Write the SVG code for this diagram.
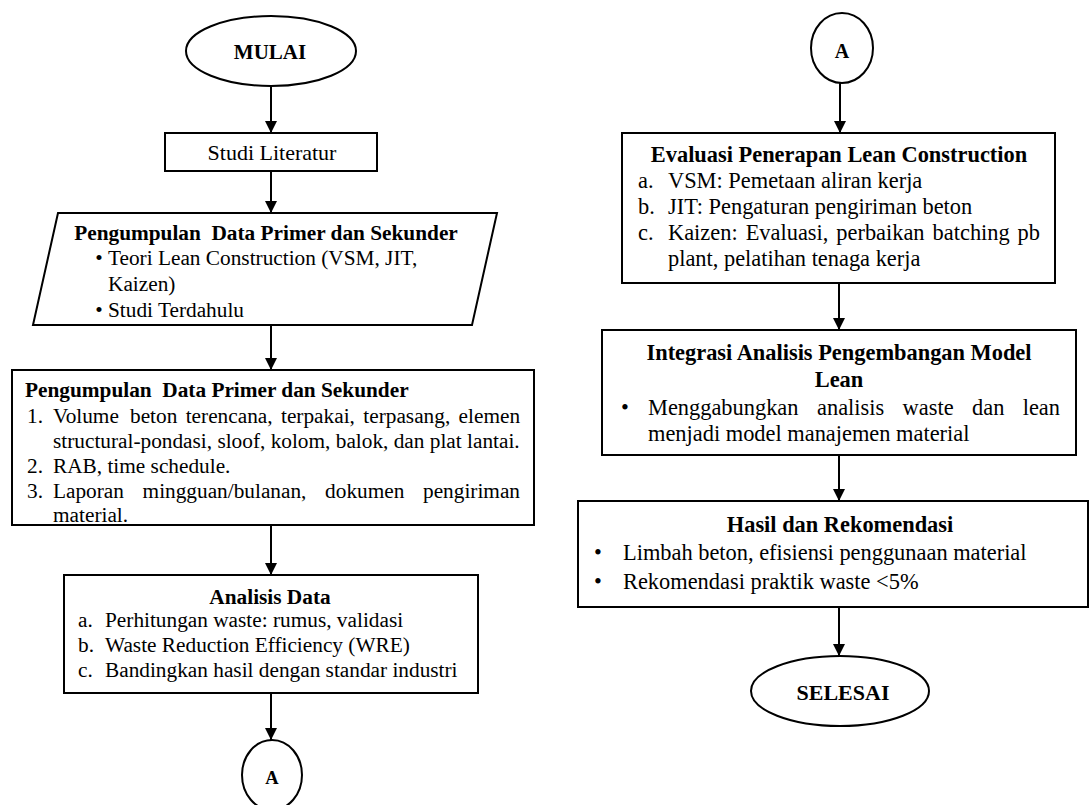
<svg xmlns="http://www.w3.org/2000/svg" width="1091" height="805" viewBox="0 0 1091 805">
<defs>
<style>
.box{fill:#fff;stroke:#000;stroke-width:2}
.t{font-family:"Liberation Serif","Times New Roman",serif;font-size:21.3px;fill:#000}
.r{font-size:22.4px}
.b{font-weight:bold}
.m{text-anchor:middle}
.conn line{stroke:#000;stroke-width:2;marker-end:url(#ah)}
</style>
<marker id="ah" markerUnits="userSpaceOnUse" markerWidth="12" markerHeight="12" refX="12" refY="6" orient="auto">
<path d="M0,0 L12,6 L0,12 z" fill="#000"/>
</marker>
</defs>
<rect width="1091" height="805" fill="#fff"/>

<g id="connectors" class="conn">
<line x1="271" y1="86" x2="271" y2="133"/>
<line x1="271" y1="171" x2="271" y2="213"/>
<line x1="271" y1="325" x2="271" y2="370"/>
<line x1="271" y1="525" x2="271" y2="575"/>
<line x1="271" y1="693" x2="271" y2="740"/>
<line x1="840" y1="83" x2="840" y2="133"/>
<line x1="839" y1="283" x2="839" y2="330"/>
<line x1="839" y1="455" x2="839" y2="501"/>
<line x1="839" y1="607" x2="839" y2="656"/>
</g>

<g id="mulai">
<ellipse class="box" cx="271" cy="51" rx="85" ry="35"/>
<text class="t b m" x="270" y="59" style="font-size:21px">MULAI</text>
</g>

<g id="studi-literatur">
<rect class="box" x="165" y="133" width="212" height="38"/>
<text class="t m" x="272" y="160" style="font-size:22px">Studi Literatur</text>
</g>

<g id="pengumpulan-1">
<polygon class="box" points="58,213 497,213 472,325 33,325"/>
<text class="t b m" x="266" y="240" xml:space="preserve">Pengumpulan  Data Primer dan Sekunder</text>
<text class="t m" x="99" y="265">•</text>
<text class="t" x="108" y="265">Teori Lean Construction (VSM, JIT,</text>
<text class="t" x="108" y="291">Kaizen)</text>
<text class="t m" x="99" y="317">•</text>
<text class="t" x="108" y="317">Studi Terdahulu</text>
</g>

<g id="pengumpulan-2">
<rect class="box" x="12" y="370" width="522" height="155"/>
<text class="t b" x="25" y="397" xml:space="preserve">Pengumpulan  Data Primer dan Sekunder</text>
<text class="t" x="27" y="423">1.</text>
<text class="t" y="423"><tspan x="53">Volume</tspan><tspan x="130">beton</tspan><tspan x="185.7">terencana,</tspan><tspan x="281">terpakai,</tspan><tspan x="363.3">terpasang,</tspan><tspan x="458.6">elemen</tspan></text>
<text class="t" x="53" y="448">structural-pondasi, sloof, kolom, balok, dan plat lantai.</text>
<text class="t" x="27" y="473">2.</text>
<text class="t" x="53" y="473">RAB, time schedule.</text>
<text class="t" x="27" y="498">3.</text>
<text class="t" y="498"><tspan x="53">Laporan</tspan><tspan x="142.6">mingguan/bulanan,</tspan><tspan x="325.1">dokumen</tspan><tspan x="423">pengiriman</tspan></text>
<text class="t" x="53" y="522">material.</text>
</g>

<g id="analisis-data">
<rect class="box" x="64" y="575" width="414" height="118"/>
<text class="t b m" x="270" y="604">Analisis Data</text>
<text class="t" x="78" y="627">a.</text>
<text class="t" x="105" y="627">Perhitungan waste: rumus, validasi</text>
<text class="t" x="78" y="652">b.</text>
<text class="t" x="105" y="652">Waste Reduction Efficiency (WRE)</text>
<text class="t" x="78" y="677">c.</text>
<text class="t" x="105" y="677">Bandingkan hasil dengan standar industri</text>
</g>

<g id="konektor-a-1">
<ellipse class="box" cx="272" cy="775" rx="30" ry="35"/>
<text class="t b m" x="272" y="784" style="font-size:18.5px">A</text>
</g>

<g id="konektor-a-2">
<ellipse class="box" cx="842" cy="48" rx="31" ry="35"/>
<text class="t b m" x="842" y="58" style="font-size:20px">A</text>
</g>

<g id="evaluasi">
<rect class="box" x="622" y="133" width="433" height="150"/>
<text class="t r b m" x="839" y="162">Evaluasi Penerapan Lean Construction</text>
<text class="t r" x="638" y="188">a.</text>
<text class="t r" x="668" y="188">VSM: Pemetaan aliran kerja</text>
<text class="t r" x="638" y="214">b.</text>
<text class="t r" x="668" y="214">JIT: Pengaturan pengiriman beton</text>
<text class="t r" x="638" y="240">c.</text>
<text class="t r" y="240"><tspan x="668">Kaizen:</tspan><tspan x="745.7">Evaluasi,</tspan><tspan x="836.3">perbaikan</tspan><tspan x="932.6">batching</tspan><tspan x="1017.6">pb</tspan></text>
<text class="t r" x="668" y="266">plant, pelatihan tenaga kerja</text>
</g>

<g id="integrasi">
<rect class="box" x="602" y="330" width="474" height="125"/>
<text class="t r b m" x="839" y="360">Integrasi Analisis Pengembangan Model</text>
<text class="t r b m" x="839" y="387">Lean</text>
<text class="t r m" x="625" y="415">•</text>
<text class="t r" y="415"><tspan x="648">Menggabungkan</tspan><tspan x="817">analisis</tspan><tspan x="902.6">waste</tspan><tspan x="972">dan</tspan><tspan x="1022.7">lean</tspan></text>
<text class="t r" x="648" y="441">menjadi model manajemen material</text>
</g>

<g id="hasil">
<rect class="box" x="578" y="501" width="510" height="106"/>
<text class="t r b m" x="840" y="532">Hasil dan Rekomendasi</text>
<text class="t r m" x="598" y="560">•</text>
<text class="t r" x="623" y="560">Limbah beton, efisiensi penggunaan material</text>
<text class="t r m" x="598" y="589">•</text>
<text class="t r" x="623" y="589">Rekomendasi praktik waste &lt;5%</text>
</g>

<g id="selesai">
<ellipse class="box" cx="840" cy="691" rx="89" ry="35"/>
<text class="t b m" x="843" y="700" style="font-size:22px">SELESAI</text>
</g>
</svg>
